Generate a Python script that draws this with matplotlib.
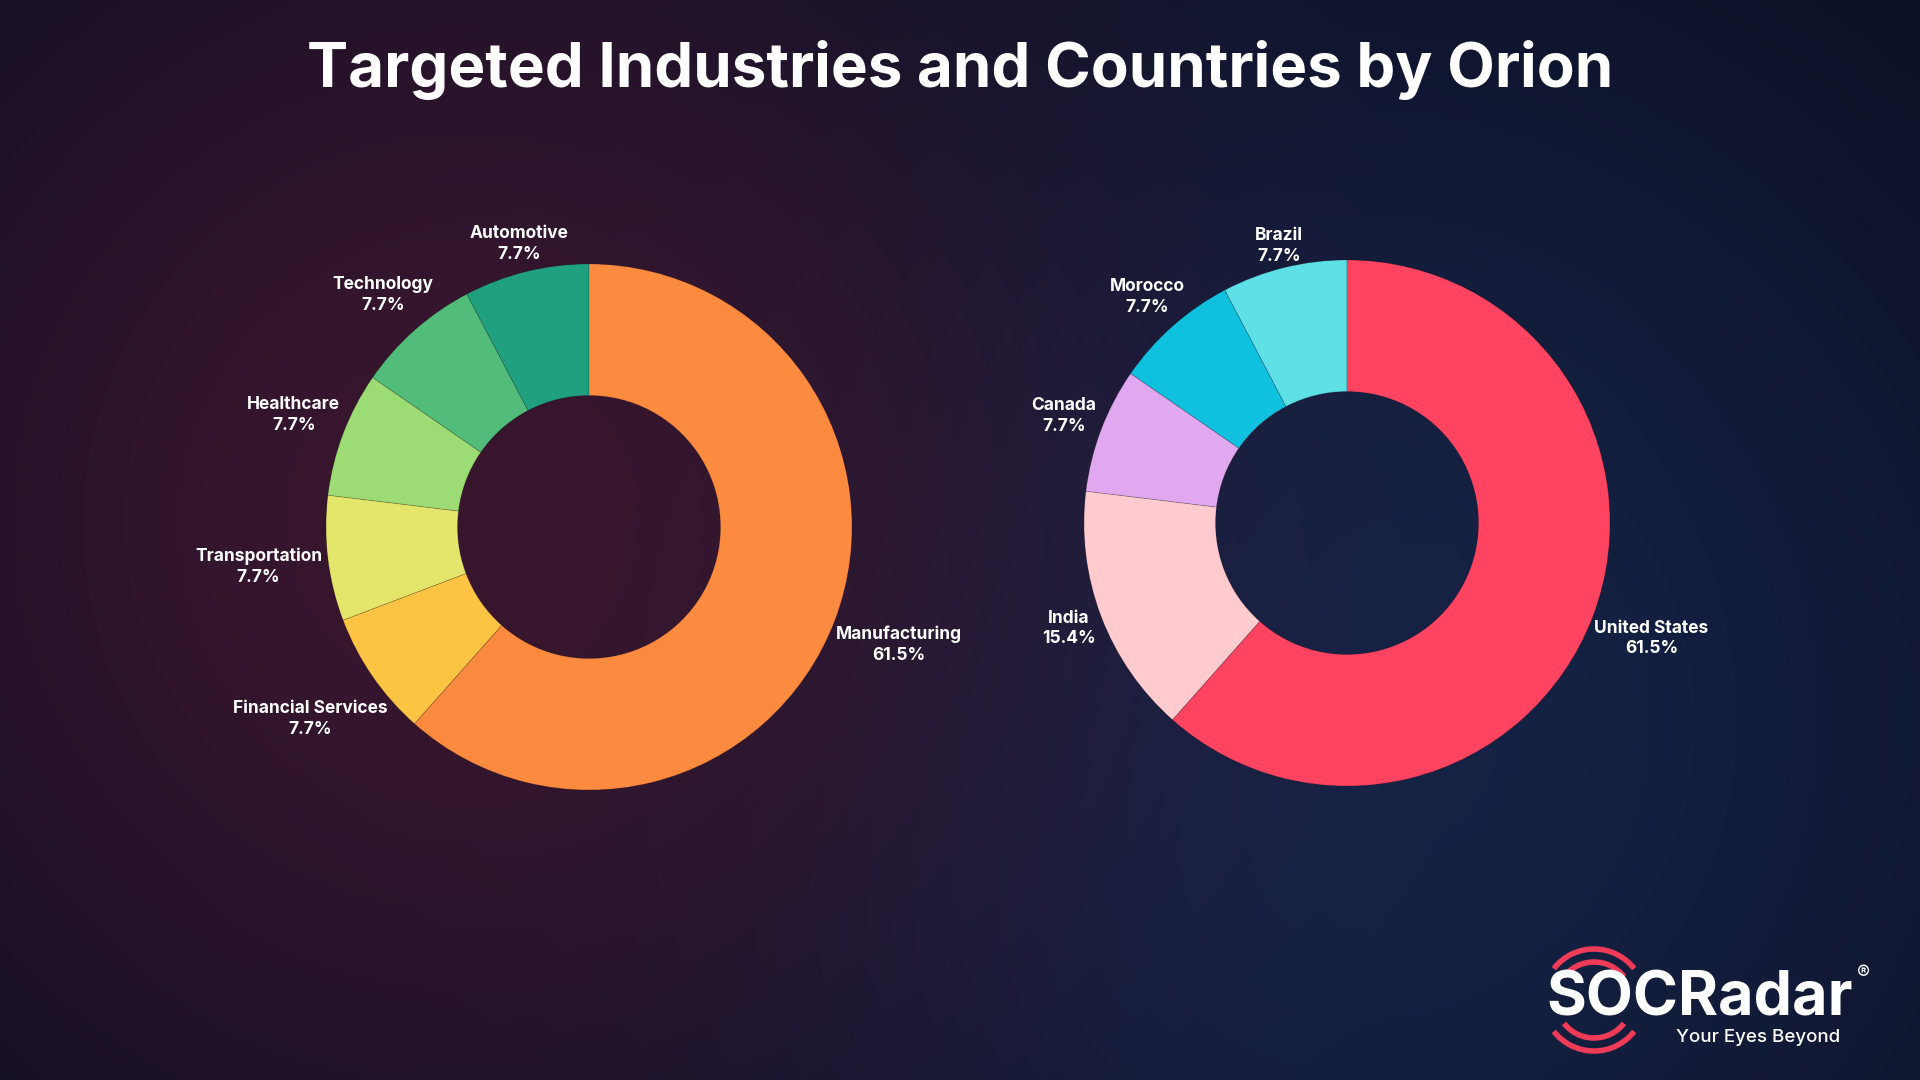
import matplotlib
matplotlib.use("Agg")
import matplotlib.pyplot as plt
from matplotlib.patches import Arc
import numpy as np

# --- data ---
industries = ["Automotive", "Technology", "Healthcare", "Transportation",
              "Financial Services", "Manufacturing"]
industry_counts = [1, 1, 1, 1, 1, 8]
industry_colors = ["#21a07f", "#52bd7a", "#9ddb74", "#e4e66b", "#fdc443", "#fd8b3f"]

countries = ["Brazil", "Morocco", "Canada", "India", "United States"]
country_counts = [1, 1, 1, 2, 8]
country_colors = ["#5de0e6", "#0fc1de", "#e0a8ee", "#ffcbcf", "#ff4461"]

title = "Targeted Industries and Countries by Orion"

FONT = "Inter"
W, H = 1920, 1080

fig = plt.figure(figsize=(W / 100, H / 100), dpi=100)

# background gradient (decoration)
bg = fig.add_axes([0, 0, 1, 1])
yy, xx = np.mgrid[0:H, 0:W]
img = np.zeros((H, W, 3)) + np.array([12, 14, 34]) / 255
glows = [((1330, 720), 700, (21, 35, 70)),
         ((460, 520), 620, (56, 22, 46))]
for (cx, cy), s, col in glows:
    d = np.hypot(xx - cx, yy - cy) / s
    w = np.exp(-d ** 2.4)[..., None]
    img = img * (1 - w) + np.array(col) / 255 * w
bg.imshow(img, extent=[0, W, H, 0], aspect="auto", zorder=0)
bg.set_xlim(0, W)
bg.set_ylim(H, 0)
bg.axis("off")

bg.text(W / 2, 70, title, color="white", fontsize=44.5, fontweight="bold",
        family=FONT, ha="center", va="center")

# logo
red = "#ee3b57"
for r in [51, 38]:
    for t1, t2 in [(38, 142), (218, 322)]:
        bg.add_patch(Arc((1594, 1000), 2 * r, 2 * r, theta1=t1, theta2=t2,
                         color=red, lw=4, zorder=3))
bg.text(1546, 1000, "SOCRadar", color="white", fontsize=44, fontweight="bold",
        family=FONT, ha="left", va="center", zorder=4)
bg.text(1864, 974, "®", color="white", fontsize=14, family=FONT,
        ha="center", va="center")
bg.text(1840, 1038, "Your Eyes Beyond", color="white", fontsize=13.5,
        fontweight="medium", family=FONT, ha="right", va="center")


def donut(center, values, names, colors):
    R = 263
    lim = 1.6
    size = 2 * lim * R
    cx, cy = center
    ax = fig.add_axes([(cx - size / 2) / W, (H - cy - size / 2) / H, size / W, size / H])
    ax.set_facecolor("none")
    total = sum(values)
    labels = [f"{n}\n{v / total * 100:.1f}%" for n, v in zip(names, values)]
    wedges, texts = ax.pie(values, colors=colors, labels=labels, startangle=90,
                           counterclock=True, radius=1.0,
                           wedgeprops=dict(width=0.5, edgecolor="#00000030", linewidth=0.6),
                           textprops=dict(color="white", fontsize=12.5, fontweight="bold",
                                          family=FONT, linespacing=1.3))
    ax.set_xlim(-lim, lim)
    ax.set_ylim(-lim, lim)
    ax.set_aspect("equal")
    ax.axis("off")
    # push labels just outside the ring, offset by the box size
    fig.canvas.draw()
    ren = fig.canvas.get_renderer()
    px = size / (2 * lim)  # pixels per data unit
    for wdg, txt in zip(wedges, texts):
        ang = np.deg2rad((wdg.theta1 + wdg.theta2) / 2)
        bb = txt.get_window_extent(ren)
        hw, hh = bb.width / 2 / px, bb.height / 2 / px
        d = 1.0 + 0.02 + abs(np.cos(ang)) * hw + abs(np.sin(ang)) * hh * 0.6
        txt.set_position((d * np.cos(ang), d * np.sin(ang)))
        txt.set_ha("center")
        txt.set_va("center")
        txt.set_multialignment("center")


donut((589, 527), industry_counts, industries, industry_colors)
donut((1347, 523), country_counts, countries, country_colors)

fig.savefig("out.png", dpi=100)
